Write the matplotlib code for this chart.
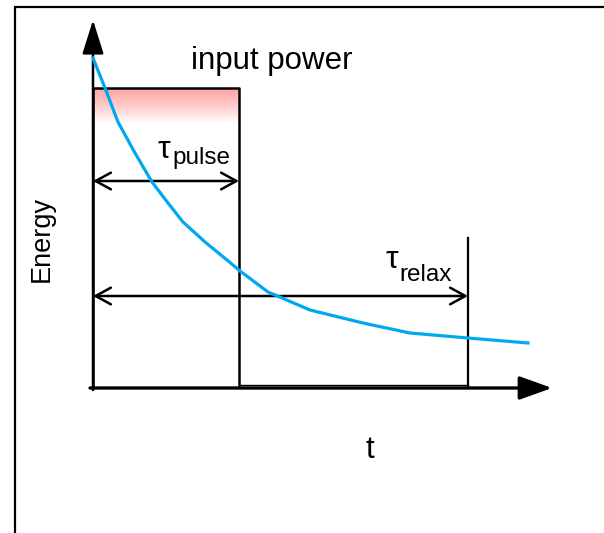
import numpy as np
import matplotlib
matplotlib.use('Agg')
from matplotlib import pyplot as plt

plt.rcParams['font.family'] = ['Liberation Sans', 'DejaVu Sans']

# Energy curve (t, E), axis origin at (0, 0)
t_energy = [0, 12, 25, 42, 59, 75, 90, 112, 134, 147, 175, 217, 270, 317, 375, 435]
e_energy = [330, 300, 266, 235, 206, 185, 166, 146, 128, 117, 96, 78, 65, 55, 50, 45]

# input power pulse
t_pulse = 146
p_level = 300
p_after = 3
t_relax = 375
relax_mark_top = 150
fade_bottom = 264

# arrows / axes extent
y_top = 368
x_end = 459
y_pulse_arrow = 207
y_relax_arrow = 92

blue = '#00a8f0'

fig = plt.figure(figsize=(6.04, 5.33), dpi=100)
ax = fig.add_axes([0, 0, 1, 1])
ax.set_xlim(-93, 511)
ax.set_ylim(-145, 388)
ax.axis('off')

# outer frame (only left and top visible)
ax.plot([-78, -78, 520], [-150, 381, 381], color='black', lw=1.6, solid_joinstyle='miter')

# pink fade at top of pulse
grad = np.linspace(0, 1, 100)
cols = np.ones((100, 1, 3))
cols[:, 0, 1] = 0.65 + 0.35 * grad ** 1.2
cols[:, 0, 2] = 0.65 + 0.35 * grad ** 1.2
ax.imshow(cols, extent=[0, t_pulse, fade_bottom, p_level], origin='upper',
          aspect='auto', zorder=1, interpolation='bilinear')

# pulse rectangle
ax.plot([0, 0, t_pulse, t_pulse], [0, p_level, p_level, p_after], color='black', lw=1.8, zorder=3)
ax.plot([t_pulse, t_relax], [p_after, p_after], color='black', lw=1.0, zorder=3)
ax.plot([t_relax, t_relax], [0, relax_mark_top], color='black', lw=1.6, zorder=3)

# axes arrows
ax.annotate('', xy=(0, y_top), xytext=(0, -2),
            arrowprops=dict(arrowstyle='-|>,head_length=1.05,head_width=0.33',
                            mutation_scale=20, color='black', lw=1.8, shrinkA=0, shrinkB=0), zorder=4)
ax.annotate('', xy=(x_end, 0), xytext=(-3, 0),
            arrowprops=dict(arrowstyle='-|>,head_length=1.0,head_width=0.36',
                            mutation_scale=20, color='black', lw=2.4, shrinkA=0, shrinkB=0), zorder=4)

# energy curve
ax.plot(t_energy, e_energy, color=blue, lw=2.3, zorder=5)

# duration arrows
ax.annotate('', xy=(t_pulse, y_pulse_arrow), xytext=(0, y_pulse_arrow),
            arrowprops=dict(arrowstyle='<->,head_length=0.55,head_width=0.3',
                            mutation_scale=20, color='black', lw=1.8, shrinkA=0, shrinkB=0), zorder=4)
ax.annotate('', xy=(t_relax, y_relax_arrow), xytext=(0, y_relax_arrow),
            arrowprops=dict(arrowstyle='<->,head_length=0.55,head_width=0.3',
                            mutation_scale=20, color='black', lw=1.8, shrinkA=0, shrinkB=0), zorder=4)

# labels
ax.text(179, 319, 'input power', fontsize=22.5, ha='center', va='baseline')
ax.text(65, 230, '\u03c4', fontsize=23, ha='left', va='baseline')
ax.text(79, 224, 'pulse', fontsize=17.5, ha='left', va='baseline')
ax.text(293, 120, '\u03c4', fontsize=23, ha='left', va='baseline')
ax.text(306, 107, 'relax', fontsize=17.5, ha='left', va='baseline')
ax.text(277, -70, 't', fontsize=22.5, ha='center', va='baseline')
ax.text(-51, 149, 'Energy', fontsize=19.5, ha='center', va='center', rotation=90)

fig.savefig('out.png', dpi=100)
